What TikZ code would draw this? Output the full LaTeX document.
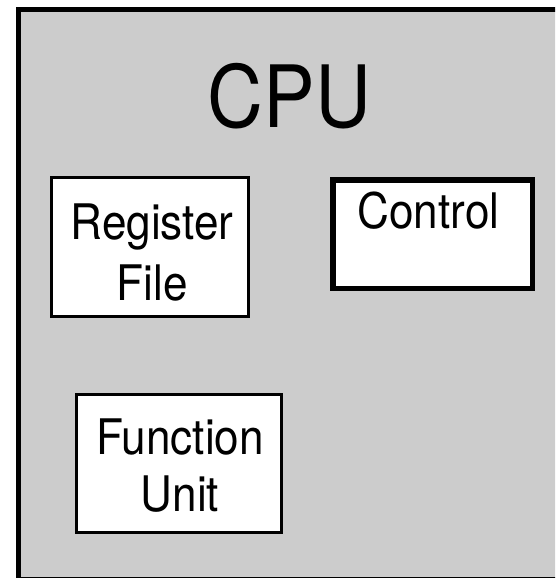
\documentclass[tikz,border=0pt]{standalone}
\usepackage{fontspec}
\setmainfont{TeX Gyre Heros}[FakeStretch=0.9]
\definecolor{cpugray}{HTML}{CCCCCC}
\tikzset{
  unitbox/.style={draw=black, fill=white, rectangle, inner sep=0pt},
  lbl/.style={inner sep=0pt, anchor=base, font=\fontsize{49}{58}\selectfont},
  title/.style={inner sep=0pt, anchor=base, font=\fontsize{86}{100}\selectfont}
}
\begin{document}
\begin{tikzpicture}[x=1pt, y=-1pt]
  \useasboundingbox (0,0) rectangle (555,578);
  \clip (0,0) rectangle (555,578);
  % enclosing CPU block (runs past the right and bottom edges)
  \node[draw=black, fill=cpugray, line width=5.5pt, rectangle, inner sep=0pt,
        minimum width=541.5pt, minimum height=570.5pt] (cpubox) at (289.25,294.75) {};
  \node[title] (cpu) at (289.5,127) {CPU};
  % inner units
  \node[unitbox, line width=3pt, minimum width=197pt, minimum height=139pt] (reg) at (150,247) {};
  \node[lbl] (regA) at (152,239) {Register};
  \node[lbl] (regB) at (152,300) {File};
  \node[unitbox, line width=5.5pt, minimum width=199.5pt, minimum height=108.5pt] (ctl) at (432.5,234) {};
  \node[lbl] (ctlA) at (428.5,228) {Control};
  \node[unitbox, line width=3pt, minimum width=205pt, minimum height=138pt] (fu) at (179,463.5) {};
  \node[lbl] (fuA) at (180,454) {Function};
  \node[lbl] (fuB) at (180,511) {Unit};
\end{tikzpicture}
\end{document}
